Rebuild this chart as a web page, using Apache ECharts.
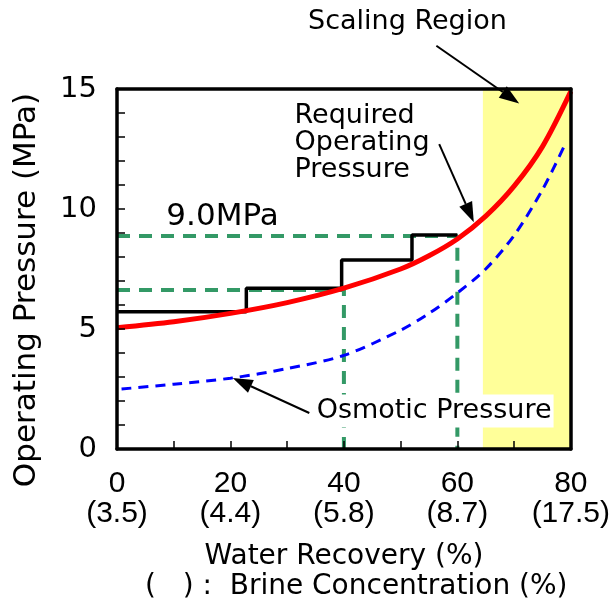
<!DOCTYPE html>
<html>
<head>
<meta charset="utf-8">
<script src="https://cdn.jsdelivr.net/npm/echarts@6/dist/echarts.min.js"></script>
<style>
  html, body { margin: 0; padding: 0; background: #fff; }
  #main { width: 613px; height: 610px; }
</style>
</head>
<body>
<div id="main"></div>
<script>
// x axis: water recovery (%), with brine concentration (%) under each tick
var recoveryTicks = [0, 20, 40, 60, 80];
var brineConc = ['3.5', '4.4', '5.8', '8.7', '17.5'];

// required operating pressure (red)
var reqX = [0, 10, 20, 30, 40, 50, 55, 60, 65, 70, 75, 80];
var reqY = [5.05, 5.3, 5.65, 6.1, 6.7, 7.5, 8.05, 8.75, 9.7, 10.95, 12.6, 14.9];

// osmotic pressure (blue dashed)
var osmX = [0.8, 10, 20, 30, 40, 50, 55, 60, 65, 70, 75, 79];
var osmY = [2.5, 2.7, 2.95, 3.35, 3.9, 4.95, 5.65, 6.5, 7.5, 8.9, 10.8, 12.7];

// staged operating pressure (black steps)
var stepX = [0, 22.8, 39.6, 52, 60];
var stepY = [5.72, 6.7, 7.87, 8.92, 8.92];

// green guide lines
var guideHiX = [0, 60, 60];
var guideHiY = [8.875, 8.875, 0];
var guideLoX = [0, 40, 40];
var guideLoY = [6.63, 6.63, 0];

// scaling region (recovery range)
var scalingRange = [64.5, 80];

function pairs(xs, ys) {
  return xs.map(function (x, i) { return [x, ys[i]]; });
}

var chart = echarts.init(document.getElementById('main'));

var option = {
  animation: false,
  backgroundColor: '#fff',
  grid: { left: 117, right: 41, top: 89, bottom: 161 },
  xAxis: [{
    type: 'value', min: 0, max: 80, interval: 20, z: 5,
    axisLine: { lineStyle: { color: '#000', width: 3.5 } },
    axisTick: { inside: true, length: 8, lineStyle: { color: '#000', width: 1.5 } },
    minorTick: { show: true, splitNumber: 2, length: 8, lineStyle: { color: '#000', width: 1.5 } },
    splitLine: { show: false },
    axisLabel: {
      margin: 20, color: '#000', fontFamily: 'Liberation Sans, sans-serif',
      fontSize: 30, lineHeight: 30, showMinLabel: true, showMaxLabel: true,
      formatter: function (v) {
        var i = recoveryTicks.indexOf(v);
        return v + '\n(' + brineConc[i] + ')';
      }
    }
  }, {
    type: 'value', min: 0, max: 80, position: 'top', z: 5,
    axisLine: { onZero: false, lineStyle: { color: '#000', width: 3.5 } },
    axisTick: { show: false }, axisLabel: { show: false }, splitLine: { show: false }
  }],
  yAxis: [{
    type: 'value', min: 0, max: 15, interval: 5, z: 5,
    axisLine: { show: true, lineStyle: { color: '#000', width: 3.5 } },
    axisTick: { inside: true, length: 8, lineStyle: { color: '#000', width: 1.5 } },
    minorTick: { show: true, splitNumber: 5, length: 8, lineStyle: { color: '#000', width: 1.5 } },
    splitLine: { show: false },
    axisLabel: { margin: 20, color: '#000', fontFamily: 'DejaVu Sans', fontSize: 29 }
  }, {
    type: 'value', min: 0, max: 15, position: 'right', z: 5,
    axisLine: { show: true, onZero: false, lineStyle: { color: '#000', width: 3.5 } },
    axisTick: { show: false }, axisLabel: { show: false }, splitLine: { show: false }
  }],
  series: [
    {
      type: 'line', z: 1, data: [], silent: true,
      markArea: {
        silent: true,
        itemStyle: { color: '#ffff99' },
        data: [[{ xAxis: scalingRange[0] }, { xAxis: scalingRange[1] }]]
      }
    },
    {
      type: 'line', z: 2, symbol: 'none', silent: true,
      data: pairs(guideHiX, guideHiY),
      lineStyle: { color: '#339966', width: 4, type: [13, 9] }
    },
    {
      type: 'line', z: 2, symbol: 'none', silent: true,
      data: pairs(guideLoX, guideLoY),
      lineStyle: { color: '#339966', width: 4, type: [13, 9] }
    },
    {
      type: 'line', z: 3, symbol: 'none', silent: true, step: 'end',
      data: pairs(stepX, stepY),
      lineStyle: { color: '#000', width: 3.5 }
    },
    {
      type: 'line', z: 3, symbol: 'none', silent: true, smooth: 0.3,
      data: pairs(osmX, osmY),
      lineStyle: { color: '#0000ff', width: 3, type: [10, 7] }
    },
    {
      type: 'line', z: 4, symbol: 'none', silent: true, smooth: 0.3,
      data: pairs(reqX, reqY),
      lineStyle: { color: '#ff0000', width: 5 }
    }
  ]
};
chart.setOption(option);

// annotations, placed in data coordinates
function px(p) { return chart.convertToPixel({ gridIndex: 0 }, p); }

function arrow(from, to) {
  var a = px(from), b = px(to);
  var ang = Math.atan2(b[1] - a[1], b[0] - a[0]);
  var L = 20, W = 7;
  var bx = b[0] - L * Math.cos(ang), by = b[1] - L * Math.sin(ang);
  return [
    { type: 'line', z: 50, shape: { x1: a[0], y1: a[1], x2: bx, y2: by }, style: { stroke: '#000', lineWidth: 2 } },
    { type: 'polygon', z: 50, shape: { points: [b, [bx + W * Math.sin(ang), by - W * Math.cos(ang)], [bx - W * Math.sin(ang), by + W * Math.cos(ang)]] }, style: { fill: '#000' } }
  ];
}

function label(p, text, size, extra) {
  var q = px(p);
  var style = { text: text, fill: '#000', font: size + 'px "DejaVu Sans"', align: 'center', verticalAlign: 'middle' };
  for (var k in extra) style[k] = extra[k];
  return { type: 'text', z: 60, x: q[0], y: q[1], style: style };
}

var graphics = [];
graphics.push(label([51.2, 17.8], 'Scaling Region', 27));
graphics = graphics.concat(arrow([56.3, 16.8], [70.9, 14.4]));
graphics.push(label([31.3, 12.75], 'Required\nOperating\nPressure', 27, { align: 'left', lineHeight: 27 }));
graphics = graphics.concat(arrow([56.8, 12.7], [62.9, 9.45]));
graphics.push(label([18.6, 9.67], '9.0MPa', 31));
graphics.push(label([55.9, 1.58], 'Osmotic Pressure', 27, { backgroundColor: '#fff', padding: [3, 2, 3, 2] }));
graphics = graphics.concat(arrow([33.9, 1.5], [20.4, 2.96]));

// axis titles
graphics.push({ type: 'text', x: 27, y: 290, rotation: Math.PI / 2, style: { text: 'Operating Pressure (MPa)', fill: '#000', font: '31px "DejaVu Sans"', align: 'center', verticalAlign: 'middle' } });
graphics.push({ type: 'text', x: 344, y: 557, style: { text: 'Water Recovery (%)', fill: '#000', font: '28px "DejaVu Sans"', align: 'center', verticalAlign: 'middle' } });
graphics.push({ type: 'text', x: 145, y: 587, style: { text: '(   ) :  Brine Concentration (%)', fill: '#000', font: '28px "DejaVu Sans"', align: 'left', verticalAlign: 'middle' } });

chart.setOption({ graphic: graphics });
</script>
</body>
</html>
